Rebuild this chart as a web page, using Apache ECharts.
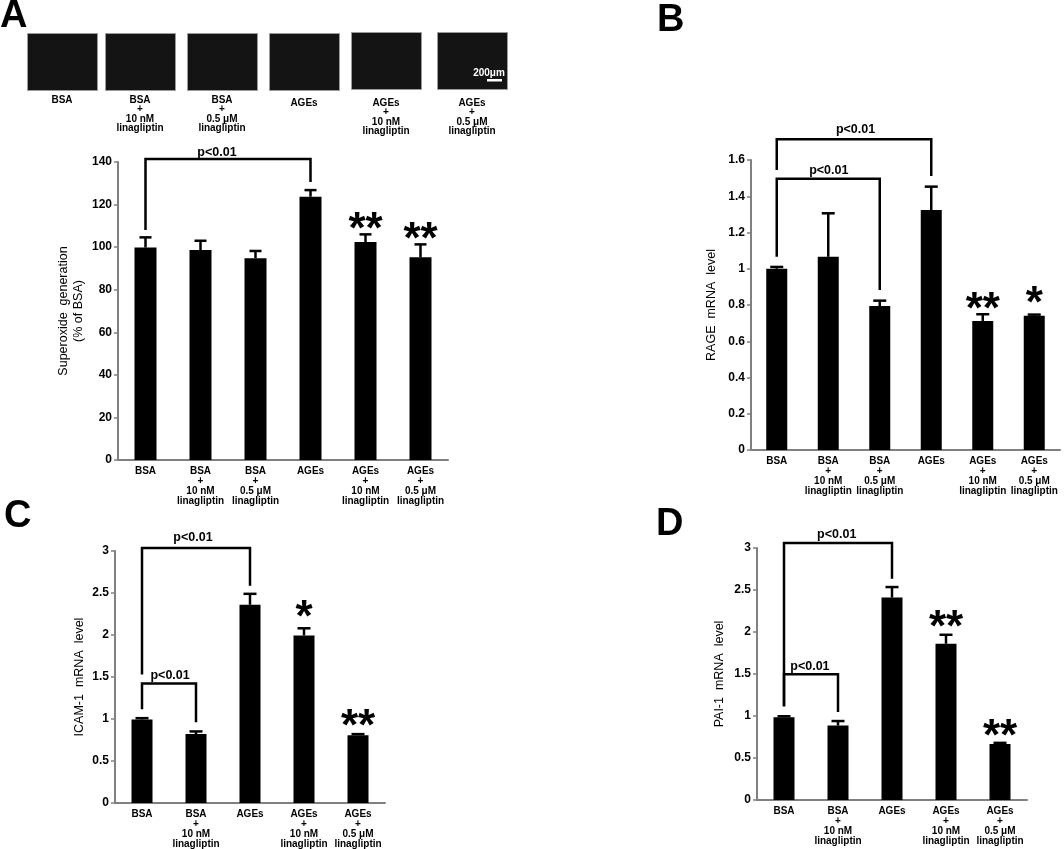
<!DOCTYPE html>
<html><head><meta charset="utf-8">
<script src="https://cdn.jsdelivr.net/npm/echarts@6/dist/echarts.min.js"></script>
<style>html,body{margin:0;padding:0;background:#fff}#c{width:1064px;height:849px}</style>
</head><body><div id="c"></div>
<script>
// ---------- data ----------
const catsA = ['BSA', 'BSA\n+\n10 nM\nlinagliptin', 'BSA\n+\n0.5 μM\nlinagliptin', 'AGEs', 'AGEs\n+\n10 nM\nlinagliptin', 'AGEs\n+\n0.5 μM\nlinagliptin'];
const catsB = catsA;
const catsCD = ['BSA', 'BSA\n+\n10 nM\nlinagliptin', 'AGEs', 'AGEs\n+\n10 nM\nlinagliptin', 'AGEs\n+\n0.5 μM\nlinagliptin'];

const valuesA = [99.8, 98.6, 94.8, 123.7, 102.4, 95.2];
const errTopA = [104.6, 103.0, 98.2, 126.8, 106.0, 101.3];
const valuesB = [1.0, 1.066, 0.794, 1.324, 0.712, 0.741];
const errTopB = [1.01, 1.306, 0.824, 1.453, 0.749, 0.747];
const valuesC = [0.995, 0.82, 2.36, 1.995, 0.808];
const errTopC = [1.01, 0.852, 2.49, 2.08, 0.82];
const valuesD = [0.986, 0.886, 2.41, 1.86, 0.667];
const errTopD = [0.997, 0.94, 2.535, 1.967, 0.68];

// brackets: [fromIdx, toIdx, fromLegBottom, top, toLegBottom, textPosIdx, textY]
const bracketsA = [[0, 3, 108, 141.4, 130.6, 1.3, 144.6]];
const bracketsB = [[0, 3, 1.545, 1.714, 1.512, 1.53, 1.766], [0, 2, 1.066, 1.497, 0.883, 1.01, 1.541]];
const bracketsC = [[0, 2, 1.53, 3.035, 2.586, 0.944, 3.166], [0, 1, 1.116, 1.423, 0.962, 0.52, 1.52]];
const bracketsD = [[0, 2, 1.112, 3.06, 2.634, 0.976, 3.158], [0, 1, 1.12, 1.498, 1.049, 0.48, 1.589]];

// significance stars: [catIdx, y (value units), count]
const starsA = [[4, 111.8, 2], [5, 107.1, 2]];
const starsB = [[4, 0.818, 2], [5, 0.85, 1]];
const starsC = [[3, 2.3, 1], [4, 0.997, 2]];
const starsD = [[3, 2.145, 2], [4, 0.842, 2]];

const yTicksA = {max: 140, interval: 20};
const yTicksB = {max: 1.6, interval: 0.2};
const yTicksCD = {max: 3, interval: 0.5};

// ---------- helpers ----------
const F = '"Liberation Sans", Arial, sans-serif';
const FN = '"Liberation Sans Narrow", "Liberation Sans", Arial, sans-serif';
const AX = '#808080';

function xAxis(gi, data) {
  return {type: 'category', gridIndex: gi, data,
    axisLine: {lineStyle: {color: AX, width: 2}},
    axisTick: {length: 3, lineStyle: {color: AX, width: 1.5}},
    axisLabel: {interval: 0, fontFamily: FN, fontWeight: 'bold', fontSize: 10, lineHeight: 10, color: '#000', margin: 6},
    splitLine: {show: false}};
}
function yAxis(gi, t, name, nameGap, lh) {
  return {type: 'value', gridIndex: gi, min: 0, max: t.max, interval: t.interval,
    name, nameLocation: 'middle', nameGap, nameRotate: 90,
    nameTextStyle: {fontFamily: F, fontSize: 12.5, color: '#000', lineHeight: lh || 15},
    axisLine: {show: true, lineStyle: {color: AX, width: 2}},
    axisTick: {show: true, length: 4, lineStyle: {color: AX, width: 1.5}},
    axisLabel: {fontFamily: F, fontWeight: 'bold', fontSize: 12, color: '#000', margin: 6},
    splitLine: {show: false}};
}
function barSeries(i, vals, bw) {
  return {type: 'bar', xAxisIndex: i, yAxisIndex: i, data: vals, barWidth: bw,
    itemStyle: {color: '#000'}, silent: true, z: 2};
}
function errSeries(i, vals, tops, hw) {
  return {type: 'custom', xAxisIndex: i, yAxisIndex: i, z: 3, silent: true, clip: false,
    data: vals.map((v, k) => [k, v, tops[k]]), encode: {x: 0, y: [1, 2]},
    renderItem(params, api) {
      const k = api.value(0);
      const p0 = api.coord([k, api.value(1)]);
      const p1 = api.coord([k, api.value(2)]);
      return {type: 'group', children: [
        {type: 'line', shape: {x1: p0[0], y1: p0[1], x2: p1[0], y2: p1[1]}, style: {stroke: '#000', lineWidth: 2.5}},
        {type: 'line', shape: {x1: p1[0] - hw, y1: p1[1], x2: p1[0] + hw, y2: p1[1]}, style: {stroke: '#000', lineWidth: 2.5}}
      ]};
    }};
}
function bracketSeries(i, items) {
  return {type: 'custom', xAxisIndex: i, yAxisIndex: i, z: 4, silent: true, clip: false,
    data: items, encode: {x: 0, y: 3},
    renderItem(params, api) {
      const a = api.coord([api.value(0), api.value(2)]);
      const t = api.coord([api.value(0), api.value(3)]);
      const b = api.coord([api.value(1), api.value(4)]);
      const bw = api.size([1, 0])[0];
      const x0 = api.coord([0, 0])[0];
      const tx = x0 + api.value(5) * bw;
      const ty = api.coord([0, api.value(6)])[1];
      return {type: 'group', children: [
        {type: 'polyline', shape: {points: [[a[0], a[1]], [a[0], t[1]], [b[0], t[1]], [b[0], b[1]]]},
          style: {stroke: '#000', lineWidth: 2.5, fill: null}},
        {type: 'text', x: tx, y: ty, style: {text: 'p<0.01', font: 'bold 12.5px ' + F, fill: '#000', align: 'center', verticalAlign: 'middle'}}
      ]};
    }};
}
function starSeries(i, items) {
  return {type: 'custom', xAxisIndex: i, yAxisIndex: i, z: 4, silent: true, clip: false,
    data: items, encode: {x: 0, y: 1},
    renderItem(params, api) {
      const p = api.coord([api.value(0), api.value(1)]);
      return {type: 'text', x: p[0], y: p[1] + 9,
        style: {text: '*'.repeat(api.value(2)), font: 'bold 44px ' + F, fill: '#000', align: 'center', verticalAlign: 'middle'}};
    }};
}

// ---------- decoration: micrograph strip for panel A ----------
const imgBoxes = [[27, 33], [105, 33], [187, 33], [269, 33], [351, 32], [437, 32]];
const imgLabels = ['BSA', 'BSA\n+\n10 nM\nlinagliptin', 'BSA\n+\n0.5 μM\nlinagliptin', 'AGEs', 'AGEs\n+\n10 nM\nlinagliptin', 'AGEs\n+\n0.5 μM\nlinagliptin'];
const graphic = [];
imgBoxes.forEach((b, k) => {
  graphic.push({type: 'rect', left: b[0], top: b[1], shape: {width: 70, height: 57},
    style: {fill: '#141414', stroke: '#9a9a9a', lineWidth: 1}, silent: true});
  graphic.push({type: 'text', x: b[0] + 35, y: k >= 3 ? 98 : 95,
    style: {text: imgLabels[k], font: 'bold 10px ' + FN, fill: '#000', align: 'center', verticalAlign: 'top', lineHeight: 9.5}, silent: true});
});
graphic.push({type: 'text', x: 489, y: 73, style: {text: '200μm', font: 'bold 10px ' + FN, fill: '#fff', align: 'center', verticalAlign: 'middle'}, silent: true});
graphic.push({type: 'rect', left: 487, top: 79, shape: {width: 15, height: 2.5}, style: {fill: '#fff'}, silent: true});
[['A', 0, -2], ['B', 657, 2], ['C', 4, 498], ['D', 656, 506]].forEach(l => {
  graphic.push({type: 'text', x: l[1], y: l[2], style: {text: l[0], font: 'bold 38px ' + F, fill: '#000', align: 'left', verticalAlign: 'top'}, silent: true});
});

// ---------- chart ----------
const chart = echarts.init(document.getElementById('c'), null, {renderer: 'canvas'});
chart.setOption({
  animation: false,
  backgroundColor: '#fff',
  grid: [
    {left: 118, top: 162, width: 330, height: 298},
    {left: 751, top: 160, width: 309, height: 290},
    {left: 115, top: 551, width: 270, height: 253},
    {left: 757, top: 548, width: 270, height: 252}
  ],
  xAxis: [xAxis(0, catsA), xAxis(1, catsB), xAxis(2, catsCD), xAxis(3, catsCD)],
  yAxis: [
    yAxis(0, yTicksA, 'Superoxide  generation\n(% of BSA)', 32),
    yAxis(1, yTicksB, 'RAGE  mRNA  level', 32),
    yAxis(2, yTicksCD, 'ICAM-1  mRNA  level', 28),
    yAxis(3, yTicksCD, 'PAI-1  mRNA  level', 30)
  ],
  graphic,
  series: [
    barSeries(0, valuesA, 22), errSeries(0, valuesA, errTopA, 6), bracketSeries(0, bracketsA), starSeries(0, starsA),
    barSeries(1, valuesB, 21), errSeries(1, valuesB, errTopB, 6.5), bracketSeries(1, bracketsB), starSeries(1, starsB),
    barSeries(2, valuesC, 21), errSeries(2, valuesC, errTopC, 6.5), bracketSeries(2, bracketsC), starSeries(2, starsC),
    barSeries(3, valuesD, 21), errSeries(3, valuesD, errTopD, 6.5), bracketSeries(3, bracketsD), starSeries(3, starsD)
  ]
});
</script>
</body></html>
